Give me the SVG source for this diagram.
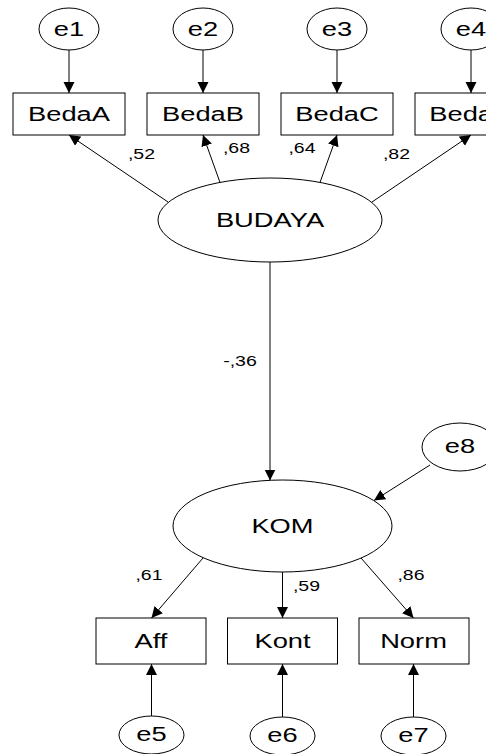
<svg xmlns="http://www.w3.org/2000/svg" width="486" height="754" viewBox="0 0 486 754">
<style>
  .shape { fill: #ffffff; stroke: #000000; stroke-width: 1; }
  .conn line { stroke: #000000; stroke-width: 1; marker-end: url(#arrow); }
  text { font-family: "Liberation Sans", Arial, sans-serif; fill: #000000; text-anchor: middle; }
  .lbl { font-size: 19.5px; }
  .coef { font-size: 15px; }
</style>
<defs>
  <marker id="arrow" markerUnits="userSpaceOnUse" markerWidth="12" markerHeight="12" refX="11" refY="5.5" orient="auto">
    <path d="M0,0 L11,5.5 L0,11 z" fill="#000000"/>
  </marker>
</defs>
<rect x="0" y="0" width="486" height="754" fill="#ffffff"/>

<g id="connectors" class="conn">
  <line x1="69" y1="50" x2="69" y2="93"/>
  <line x1="203" y1="50" x2="203" y2="93"/>
  <line x1="337" y1="50" x2="337" y2="93"/>
  <line x1="471" y1="50" x2="471" y2="93"/>
  <line x1="168" y1="202" x2="69" y2="135"/>
  <line x1="220" y1="182.5" x2="203" y2="135"/>
  <line x1="320" y1="182.5" x2="337" y2="135"/>
  <line x1="372" y1="202" x2="471" y2="135"/>
  <line x1="270" y1="262" x2="270" y2="480.5"/>
  <line x1="430" y1="465" x2="374" y2="500.5"/>
  <line x1="203" y1="558" x2="151.5" y2="618"/>
  <line x1="282.5" y1="572" x2="282.5" y2="618"/>
  <line x1="361" y1="558" x2="413.5" y2="618"/>
  <line x1="151.5" y1="716" x2="151.5" y2="664"/>
  <line x1="282.5" y1="717" x2="282.5" y2="664"/>
  <line x1="413.5" y1="717" x2="413.5" y2="664"/>
</g>

<g id="coefficients" class="coef">
  <text transform="translate(141.5,159) scale(1.3,1)">,52</text>
  <text transform="translate(236.5,153) scale(1.3,1)">,68</text>
  <text transform="translate(302,153) scale(1.3,1)">,64</text>
  <text transform="translate(396.5,159) scale(1.3,1)">,82</text>
  <text transform="translate(240,366) scale(1.3,1)">-,36</text>
  <text transform="translate(149,580) scale(1.3,1)">,61</text>
  <text transform="translate(306.5,591) scale(1.3,1)">,59</text>
  <text transform="translate(411,580) scale(1.3,1)">,86</text>
</g>

<g id="e1"><ellipse class="shape" cx="69" cy="29" rx="30" ry="21"/><text class="lbl" transform="translate(69,36) scale(1.4,1)">e1</text></g>
<g id="e2"><ellipse class="shape" cx="203" cy="29" rx="30" ry="21"/><text class="lbl" transform="translate(203,36) scale(1.4,1)">e2</text></g>
<g id="e3"><ellipse class="shape" cx="337" cy="29" rx="30" ry="21"/><text class="lbl" transform="translate(337,36) scale(1.4,1)">e3</text></g>
<g id="e4"><ellipse class="shape" cx="471" cy="29" rx="30" ry="21"/><text class="lbl" transform="translate(471,36) scale(1.4,1)">e4</text></g>

<g id="BedaA"><rect class="shape" x="13" y="93" width="112" height="42"/><text class="lbl" transform="translate(69,121) scale(1.4,1)">BedaA</text></g>
<g id="BedaB"><rect class="shape" x="147" y="93" width="112" height="42"/><text class="lbl" transform="translate(203,121) scale(1.4,1)">BedaB</text></g>
<g id="BedaC"><rect class="shape" x="281" y="93" width="112" height="42"/><text class="lbl" transform="translate(337,121) scale(1.4,1)">BedaC</text></g>
<g id="BedaD"><rect class="shape" x="415" y="93" width="112" height="42"/><text class="lbl" transform="translate(471,121) scale(1.4,1)">BedaD</text></g>

<g id="BUDAYA"><ellipse class="shape" cx="270" cy="220" rx="112" ry="42"/><text class="lbl" transform="translate(270,227) scale(1.4,1)">BUDAYA</text></g>

<g id="e8"><ellipse class="shape" cx="460" cy="447" rx="38" ry="24"/><text class="lbl" transform="translate(460,453) scale(1.4,1)">e8</text></g>

<g id="KOM"><ellipse class="shape" cx="282.5" cy="526" rx="109.5" ry="46"/><text class="lbl" transform="translate(282.5,532.5) scale(1.4,1)">KOM</text></g>

<g id="Aff"><rect class="shape" x="96" y="618" width="110" height="46"/><text class="lbl" transform="translate(151,648) scale(1.4,1)">Aff</text></g>
<g id="Kont"><rect class="shape" x="227.5" y="618" width="110" height="46"/><text class="lbl" transform="translate(282.5,648) scale(1.4,1)">Kont</text></g>
<g id="Norm"><rect class="shape" x="359" y="618" width="110" height="46"/><text class="lbl" transform="translate(413.5,648) scale(1.4,1)">Norm</text></g>

<g id="e5"><ellipse class="shape" cx="151.5" cy="735" rx="32.5" ry="19"/><text class="lbl" transform="translate(151.5,741) scale(1.4,1)">e5</text></g>
<g id="e6"><ellipse class="shape" cx="282.5" cy="736" rx="32.5" ry="19"/><text class="lbl" transform="translate(282.5,742) scale(1.4,1)">e6</text></g>
<g id="e7"><ellipse class="shape" cx="413.5" cy="736" rx="32.5" ry="19"/><text class="lbl" transform="translate(413.5,742) scale(1.4,1)">e7</text></g>
</svg>
